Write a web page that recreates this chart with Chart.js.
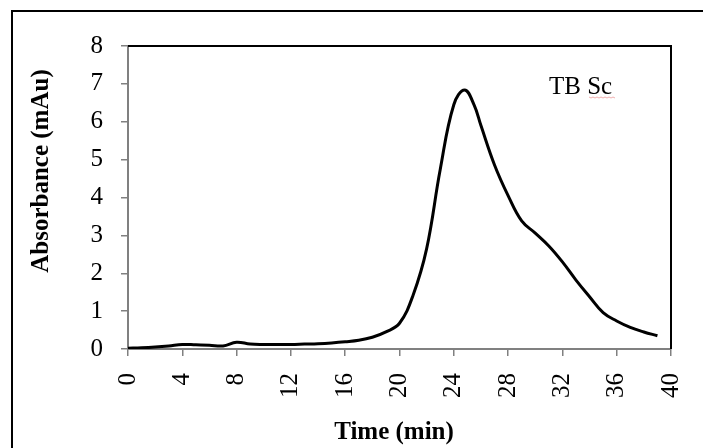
<!DOCTYPE html>
<html>
<head>
<meta charset="utf-8">
<script src="https://cdn.jsdelivr.net/npm/chart.js@4"></script>
<style>
    html, body { margin: 0; padding: 0; background: #fff; overflow: hidden; }
    #wrap { position: relative; width: 703px; height: 448px; overflow: hidden; }
    #frame { position: absolute; left: 11px; top: 10px; width: 720px; height: 470px; border: 2px solid #000; box-sizing: border-box; }
    canvas { position: absolute; left: 0; top: 0; }
</style>
</head>
<body>
<div id="wrap">
    <div id="frame"></div>
    <canvas id="chromChart" width="703" height="448"></canvas>
</div>
<script>
const times = [0, 1, 2, 3, 4, 5, 6, 7, 8, 9, 10, 11, 12, 13, 14, 15, 16, 17, 18, 19, 20,
    21, 22, 23, 24, 24.8, 25.5, 26, 27, 28, 29, 30, 31, 32, 33, 34, 35, 36, 37, 38, 39];
const absorbance = [0.02, 0.03, 0.05, 0.08, 0.12, 0.11, 0.10, 0.08, 0.18, 0.13, 0.12, 0.12, 0.12, 0.13, 0.14, 0.16, 0.19, 0.23, 0.31, 0.45, 0.68,
    1.42, 2.65, 4.74, 6.45, 6.84, 6.44, 5.90, 4.86, 4.05, 3.38, 3.06, 2.72, 2.30, 1.82, 1.38, 0.96, 0.74, 0.57, 0.45, 0.35];
const xTitle = "Time (min)";
const yTitle = "Absorbance (mAu)";
const sampleLabel = "TB Sc";

const serif = "'Liberation Serif', 'Times New Roman', serif";

// top/right plot border, axis titles and the sample label
const decorations = {
    id: "decorations",
    afterDraw(chart) {
        const { ctx, chartArea } = chart;
        ctx.save();
        ctx.strokeStyle = "#000";
        ctx.lineWidth = 2;
        ctx.beginPath();
        ctx.moveTo(chartArea.left, chartArea.top);
        ctx.lineTo(chartArea.right, chartArea.top);
        ctx.lineTo(chartArea.right, chartArea.bottom);
        ctx.stroke();

        ctx.fillStyle = "#000";
        ctx.font = "bold 25px " + serif;
        ctx.textAlign = "center";
        ctx.textBaseline = "middle";
        ctx.fillText(xTitle, 394, 433);

        ctx.save();
        ctx.translate(42, 171);
        ctx.rotate(-Math.PI / 2);
        ctx.fillText(yTitle, 0, 0);
        ctx.restore();

        ctx.font = "25px " + serif;
        ctx.textAlign = "left";
        ctx.textBaseline = "alphabetic";
        ctx.fillText(sampleLabel, 549, 94);

        // spell-check squiggle under "Sc"
        ctx.strokeStyle = "rgba(230,120,120,0.6)";
        ctx.lineWidth = 1;
        ctx.beginPath();
        for (let x = 589; x <= 616; x += 2) {
            const y = 97 + ((x / 2) % 2 < 1 ? 0 : 1);
            if (x === 589) ctx.moveTo(x, y); else ctx.lineTo(x, y);
        }
        ctx.stroke();
        ctx.restore();
    },
};

new Chart(document.getElementById("chromChart"), {
    type: "line",
    data: {
        datasets: [
            {
                data: times.map((t, i) => ({ x: t, y: absorbance[i] })),
                borderColor: "#000",
                borderWidth: 3,
                pointRadius: 0,
                tension: 0.4,
                fill: false,
            },
        ],
    },
    options: {
        responsive: false,
        animation: false,
        devicePixelRatio: 1,
        layout: { padding: { top: 46, right: 32, left: 0, bottom: 0 } },
        plugins: { legend: { display: false }, tooltip: { enabled: false } },
        scales: {
            x: {
                type: "linear",
                min: 0,
                max: 40,
                afterFit: (scale) => {
                    scale.height = 99;
                    scale.paddingLeft = 0;
                    scale.paddingRight = 0;
                },
                ticks: {
                    stepSize: 4,
                    minRotation: 90,
                    maxRotation: 90,
                    padding: 17,
                    color: "#000",
                    font: { family: serif, size: 25 },
                },
                grid: { drawOnChartArea: false, drawTicks: true, tickLength: 7, color: "#808080", lineWidth: 1.5 },
                border: { color: "#808080", width: 2 },
            },
            y: {
                min: 0,
                max: 8,
                afterFit: (scale) => {
                    scale.width = 128;
                    scale.paddingTop = 0;
                    scale.paddingBottom = 0;
                },
                ticks: {
                    stepSize: 1,
                    padding: 18,
                    color: "#000",
                    font: { family: serif, size: 25 },
                },
                grid: { drawOnChartArea: false, drawTicks: true, tickLength: 7, color: "#808080", lineWidth: 1.5 },
                border: { color: "#808080", width: 2 },
            },
        },
    },
    plugins: [decorations],
});
</script>
</body>
</html>
